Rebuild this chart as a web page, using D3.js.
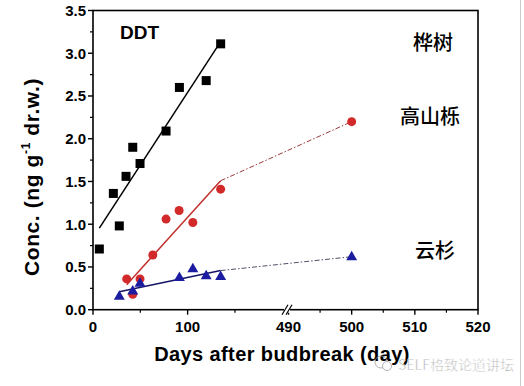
<!DOCTYPE html>
<html>
<head>
<meta charset="utf-8">
<script src="https://cdn.jsdelivr.net/npm/d3@7"></script>
<style>
  body { margin: 0; background: #fff; }
  text { font-family: "Liberation Sans", Arial, sans-serif; }
</style>
</head>
<body>
<script>

// data
var birchX = [6.7, 21.5, 27.8, 34.9, 42, 49.7, 77.2, 91.3, 119.6, 134.9];
var birchY = [0.71, 1.36, 0.98, 1.56, 1.90, 1.71, 2.09, 2.60, 2.68, 3.11];
var oakX = [35.6, 42, 49.7, 63.2, 77.2, 91, 105.5, 134.9, 500];
var oakY = [0.36, 0.18, 0.36, 0.64, 1.06, 1.16, 1.02, 1.41, 2.20];
var spruceX = [27.8, 42, 49.7, 91.3, 105.5, 119.6, 134.9, 500];
var spruceY = [0.16, 0.22, 0.31, 0.38, 0.48, 0.40, 0.39, 0.62];

var yTicks = [0, 0.5, 1.0, 1.5, 2.0, 2.5, 3.0, 3.5];
var xTicksLeft = [0, 100];
var xMinorLeft = [50, 150];
var xTicksRight = [490, 500, 510, 520];
var xMinorRight = [495, 505, 515];

var W = 524, H = 386;
var svg = d3.select("body").append("svg")
  .attr("width", W)
  .attr("height", H);

var pL = 93, pR = 478, pT = 10.5, pB = 309.7, brk = 287;

// broken x axis = two scales
var xL = d3.scaleLinear().domain([0, 205]).range([pL, brk]);
var xR = d3.scaleLinear().domain([490, 520]).range([288.5, pR]);
var x = function(v){ return v > 300 ? xR(v) : xL(v); };
var y = d3.scaleLinear().domain([0, 3.5]).range([pB, pT]);

// faint right edge of the screenshot
svg.append("line").attr("x1", 520.5).attr("x2", 520.5).attr("y1", 0).attr("y2", H)
  .attr("stroke", "#ccc").attr("stroke-width", 1);

// frame
svg.append("rect")
  .attr("x", pL).attr("y", pT)
  .attr("width", pR - pL).attr("height", pB - pT)
  .attr("fill", "none").attr("stroke", "#000").attr("stroke-width", 1.6);

// y ticks
var yMinor = d3.range(0.25, 3.5, 0.5);
svg.selectAll(".ytick").data(yTicks).enter().append("line")
  .attr("x1", pL - 5).attr("x2", pL)
  .attr("y1", function(d){ return y(d); }).attr("y2", function(d){ return y(d); })
  .attr("stroke", "#000").attr("stroke-width", 1.4);
svg.selectAll(".yminor").data(yMinor).enter().append("line")
  .attr("x1", pL - 3).attr("x2", pL)
  .attr("y1", function(d){ return y(d); }).attr("y2", function(d){ return y(d); })
  .attr("stroke", "#000").attr("stroke-width", 1.2);
svg.selectAll(".ylab").data(yTicks).enter().append("text")
  .attr("x", pL - 7).attr("y", function(d){ return y(d) + 5.5; })
  .attr("text-anchor", "end")
  .attr("font-size", 15).attr("font-weight", "bold")
  .text(function(d){ return d.toFixed(1); });

// x ticks
var xMajor = xTicksLeft.concat(xTicksRight);
var xMinor = xMinorLeft.concat(xMinorRight);
svg.selectAll(".xtick").data(xMajor).enter().append("line")
  .attr("x1", function(d){ return x(d); }).attr("x2", function(d){ return x(d); })
  .attr("y1", pB).attr("y2", pB + 5)
  .attr("stroke", "#000").attr("stroke-width", 1.4);
svg.selectAll(".xminor").data(xMinor).enter().append("line")
  .attr("x1", function(d){ return x(d); }).attr("x2", function(d){ return x(d); })
  .attr("y1", pB).attr("y2", pB + 3)
  .attr("stroke", "#000").attr("stroke-width", 1.2);
svg.selectAll(".xlab").data(xMajor).enter().append("text")
  .attr("x", function(d){ return x(d); }).attr("y", pB + 22)
  .attr("text-anchor", "middle")
  .attr("font-size", 15).attr("font-weight", "bold")
  .text(function(d){ return d; });

// axis break marks
svg.append("rect").attr("x", brk - 3).attr("y", pB - 3).attr("width", 6).attr("height", 6)
  .attr("fill", "#fff");
[-2, 2].forEach(function(o){
  svg.append("line")
    .attr("x1", brk + o - 3).attr("y1", pB + 5)
    .attr("x2", brk + o + 3).attr("y2", pB - 5)
    .attr("stroke", "#000").attr("stroke-width", 1.2);
});

// axis titles
svg.append("text")
  .attr("x", 282).attr("y", 361)
  .attr("text-anchor", "middle")
  .attr("font-size", 20).attr("font-weight", "bold")
  .attr("letter-spacing", 0.4)
  .text("Days after budbreak (day)");

var yt = svg.append("text")
  .attr("transform", "translate(39,177) rotate(-90)")
  .attr("text-anchor", "middle")
  .attr("font-size", 21).attr("font-weight", "bold")
  .attr("letter-spacing", 0.6);
yt.append("tspan").text("Conc. (ng g");
yt.append("tspan").attr("font-size", 12).attr("dy", -9).text("-1");
yt.append("tspan").attr("dy", 9).text(" dr.w.)");

svg.append("text")
  .attr("x", 120).attr("y", 39)
  .attr("font-size", 19).attr("font-weight", "bold")
  .text("DDT");

// series labels
var cjk = "'Noto Sans CJK SC', sans-serif";
[["桦树", 413, 50], ["高山栎", 400, 124], ["云杉", 415, 258]].forEach(function(l){
  svg.append("text")
    .attr("x", l[1]).attr("y", l[2])
    .style("font-family", cjk)
    .attr("font-size", 20).attr("font-weight", 500)
    .text(l[0]);
});

// least squares fit over the early points
var fit = function(xs, ys){
  var n = xs.length;
  var mx = d3.mean(xs), my = d3.mean(ys);
  var sxy = 0, sxx = 0;
  for (var i = 0; i < n; i++){
    sxy += (xs[i] - mx) * (ys[i] - my);
    sxx += (xs[i] - mx) * (xs[i] - mx);
  }
  var b = sxy / sxx;
  return { a: my - b * mx, b: b, x0: d3.min(xs), x1: d3.max(xs) };
};

var drawFit = function(xs, ys, color, farX, farY, dashColor){
  var early = [], earlyY = [];
  for (var i = 0; i < xs.length; i++){
    if (xs[i] < 300){ early.push(xs[i]); earlyY.push(ys[i]); }
  }
  var f = fit(early, earlyY);
  svg.append("line")
    .attr("x1", x(f.x0)).attr("y1", y(f.a + f.b * f.x0))
    .attr("x2", x(f.x1)).attr("y2", y(f.a + f.b * f.x1))
    .attr("stroke", color).attr("stroke-width", 1.5);
  if (farX !== undefined){
    svg.append("line")
      .attr("x1", x(f.x1)).attr("y1", y(f.a + f.b * f.x1))
      .attr("x2", x(farX)).attr("y2", y(farY))
      .attr("stroke", dashColor).attr("stroke-width", 1)
      .attr("stroke-dasharray", "5,2,1.5,2");
  }
};

drawFit(birchX, birchY, "#000");
drawFit(oakX, oakY, "#c0302c", oakX[oakX.length - 1], oakY[oakY.length - 1], "#9a3a3a");
drawFit(spruceX, spruceY, "#141466", spruceX[spruceX.length - 1], spruceY[spruceY.length - 1], "#50506a");

// markers
svg.selectAll(".sq").data(d3.zip(birchX, birchY)).enter().append("rect")
  .attr("x", function(d){ return x(d[0]) - 4.5; })
  .attr("y", function(d){ return y(d[1]) - 4.5; })
  .attr("width", 9).attr("height", 9)
  .attr("fill", "#000");

svg.selectAll(".ci").data(d3.zip(oakX, oakY)).enter().append("circle")
  .attr("cx", function(d){ return x(d[0]); })
  .attr("cy", function(d){ return y(d[1]); })
  .attr("r", 4.5)
  .attr("fill", "#d22a2a");

var tri = d3.symbol().type(d3.symbolTriangle).size(52);
svg.selectAll(".tr").data(d3.zip(spruceX, spruceY)).enter().append("path")
  .attr("d", tri)
  .attr("transform", function(d){ return "translate(" + x(d[0]) + "," + (y(d[1]) + 0.5) + ")"; })
  .attr("fill", "#1c1ca0");

// watermark
var wm = svg.append("g").attr("opacity", 0.75);
wm.append("circle").attr("cx", 381).attr("cy", 362).attr("r", 6)
  .attr("fill", "none").attr("stroke", "#999").attr("stroke-width", 1);
wm.append("circle").attr("cx", 387).attr("cy", 366).attr("r", 4.5)
  .attr("fill", "#fff").attr("stroke", "#999").attr("stroke-width", 1);
wm.append("text")
  .attr("x", 398).attr("y", 370)
  .style("font-family", cjk)
  .attr("font-size", 14)
  .attr("fill", "#888")
  .attr("stroke", "#fff").attr("stroke-width", 0.5)
  .text("SELF格致论道讲坛");

</script>
</body>
</html>
